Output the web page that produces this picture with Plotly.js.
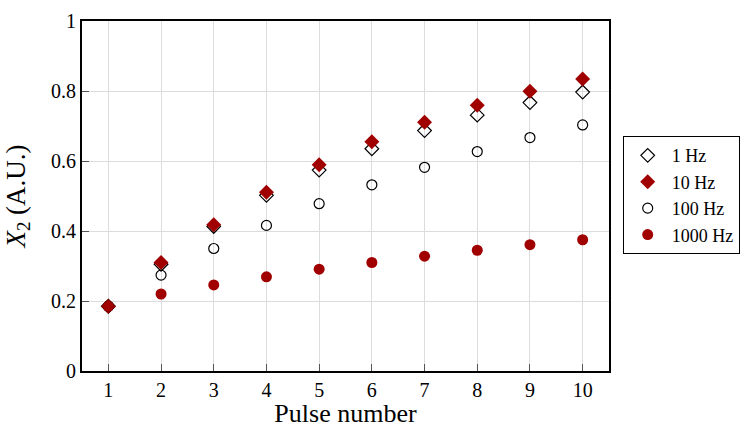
<!DOCTYPE html>
<html>
<head>
<meta charset="utf-8">
<script src="https://cdn.plot.ly/plotly-3.0.1.min.js"></script>
<style>html,body{margin:0;padding:0;background:#fff}</style>
</head>
<body>
<div id="chart" style="width:752px;height:428px"></div>
<script>
const pulses = [1, 2, 3, 4, 5, 6, 7, 8, 9, 10];
const hz1 = [0.185, 0.305, 0.413, 0.502, 0.574, 0.635, 0.687, 0.731, 0.767, 0.797];
const hz10 = [0.185, 0.310, 0.418, 0.511, 0.589, 0.655, 0.711, 0.759, 0.799, 0.834];
const hz100 = [0.185, 0.274, 0.350, 0.416, 0.478, 0.532, 0.582, 0.627, 0.667, 0.703];
const hz1000 = [0.185, 0.220, 0.246, 0.269, 0.291, 0.310, 0.328, 0.345, 0.361, 0.375];
const names = ['1 Hz', '10 Hz', '100 Hz', '1000 Hz'];
const yTicks = [0, 0.2, 0.4, 0.6, 0.8, 1];
const yTickText = ['0', '0.2', '0.4', '0.6', '0.8', '1'];

const red = '#a00000';
const font = 'Liberation Serif, DejaVu Serif, serif';

const traces = [
  {x: pulses, y: hz1, name: names[0], mode: 'markers', type: 'scatter',
   marker: {symbol: 'diamond-open', size: 10.5, color: '#000', line: {width: 1.2, color: '#000'}}},
  {x: pulses, y: hz10, name: names[1], mode: 'markers', type: 'scatter',
   marker: {symbol: 'diamond', size: 11.5, color: red, line: {width: 0}}},
  {x: pulses, y: hz100, name: names[2], mode: 'markers', type: 'scatter',
   marker: {symbol: 'circle-open', size: 10, color: '#000', line: {width: 1.2, color: '#000'}}},
  {x: pulses, y: hz1000, name: names[3], mode: 'markers', type: 'scatter',
   marker: {symbol: 'circle', size: 11, color: red, line: {width: 0}}}
];

const layout = {
  width: 752, height: 428,
  margin: {l: 82, r: 140, t: 21, b: 57},
  paper_bgcolor: '#fff', plot_bgcolor: '#fff',
  font: {family: font, size: 20, color: '#000'},
  showlegend: true,
  legend: {x: 1.026, y: 0.671, xanchor: 'left', yanchor: 'top',
           bordercolor: '#000', borderwidth: 1, bgcolor: '#fff',
           font: {family: font, size: 18, color: '#000'}, itemwidth: 38, tracegroupgap: 0},
  xaxis: {
    range: [0.5, 10.5], tickvals: pulses, ticktext: pulses.map(String),
    showgrid: true, gridcolor: '#dcdcdc', gridwidth: 1,
    showline: true, linecolor: '#000', linewidth: 2, mirror: true,
    ticks: 'inside', ticklen: 7, tickcolor: '#555', zeroline: false,
    tickfont: {family: font, size: 20},
    title: {text: 'Pulse number', font: {family: font, size: 26}, standoff: 16}
  },
  yaxis: {
    range: [0, 1], tickvals: yTicks, ticktext: yTickText,
    showgrid: true, gridcolor: '#dcdcdc', gridwidth: 1,
    showline: true, linecolor: '#000', linewidth: 2, mirror: true,
    ticks: 'inside', ticklen: 7, tickcolor: '#555', zeroline: false,
    tickfont: {family: font, size: 20},
    title: {text: '<i>X</i><sub>2</sub> (A.U.)', font: {family: font, size: 27}, standoff: 18}
  }
};

Plotly.newPlot('chart', traces, layout, {displayModeBar: false, staticPlot: true});
</script>
</body>
</html>
